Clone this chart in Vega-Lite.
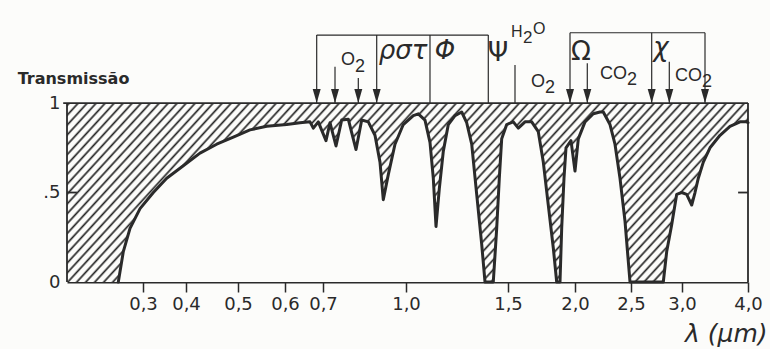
{
"$schema": "https://vega.github.io/schema/vega-lite/v6.json",
"width": 681,
"height": 272,
"autosize": "none",
"padding": {"left": 67, "top": 10, "right": 22, "bottom": 67},
"background": "#fcfcfa",
"config": {"view": {"stroke": null}},
"datasets": {
"curve": [{"x":0.2675,"y":0},{"x":0.2741,"y":0.17},{"x":0.2829,"y":0.30},{"x":0.2961,"y":0.41},{"x":0.324,"y":0.50},{"x":0.3551,"y":0.58},{"x":0.3937,"y":0.65},{"x":0.4269,"y":0.72},{"x":0.459,"y":0.77},{"x":0.491,"y":0.81},{"x":0.5255,"y":0.85},{"x":0.5611,"y":0.87},{"x":0.6045,"y":0.88},{"x":0.6395,"y":0.89},{"x":0.6658,"y":0.895},{"x":0.6745,"y":0.86},{"x":0.6876,"y":0.895},{"x":0.7108,"y":0.79},{"x":0.7253,"y":0.89},{"x":0.747,"y":0.76},{"x":0.7676,"y":0.905},{"x":0.7914,"y":0.91},{"x":0.8193,"y":0.74},{"x":0.8399,"y":0.905},{"x":0.8637,"y":0.895},{"x":0.8879,"y":0.82},{"x":0.906,"y":0.67},{"x":0.9179,"y":0.46},{"x":0.936,"y":0.60},{"x":0.9602,"y":0.77},{"x":0.9902,"y":0.88},{"x":1.0358,"y":0.93},{"x":1.0603,"y":0.94},{"x":1.0931,"y":0.905},{"x":1.1176,"y":0.78},{"x":1.1338,"y":0.58},{"x":1.1471,"y":0.31},{"x":1.1632,"y":0.52},{"x":1.1828,"y":0.73},{"x":1.2074,"y":0.88},{"x":1.2402,"y":0.93},{"x":1.273,"y":0.95},{"x":1.2975,"y":0.89},{"x":1.3221,"y":0.77},{"x":1.3466,"y":0.49},{"x":1.3711,"y":0.21},{"x":1.3873,"y":0},{"x":1.4279,"y":0},{"x":1.4446,"y":0.30},{"x":1.4574,"y":0.58},{"x":1.4691,"y":0.80},{"x":1.4936,"y":0.88},{"x":1.5396,"y":0.895},{"x":1.5769,"y":0.86},{"x":1.6269,"y":0.895},{"x":1.6769,"y":0.895},{"x":1.7261,"y":0.84},{"x":1.7634,"y":0.67},{"x":1.8007,"y":0.43},{"x":1.8381,"y":0.19},{"x":1.8634,"y":0},{"x":1.8881,"y":0},{"x":1.9007,"y":0.30},{"x":1.9179,"y":0.58},{"x":1.9328,"y":0.75},{"x":1.9701,"y":0.79},{"x":2.0,"y":0.62},{"x":2.0295,"y":0.80},{"x":2.0893,"y":0.895},{"x":2.1634,"y":0.94},{"x":2.2232,"y":0.95},{"x":2.2527,"y":0.95},{"x":2.3125,"y":0.88},{"x":2.3571,"y":0.77},{"x":2.4018,"y":0.58},{"x":2.4464,"y":0.34},{"x":2.4911,"y":0},{"x":2.8167,"y":0},{"x":2.85,"y":0.17},{"x":2.899,"y":0.32},{"x":2.948,"y":0.49},{"x":2.997,"y":0.50},{"x":3.071,"y":0.49},{"x":3.147,"y":0.43},{"x":3.197,"y":0.50},{"x":3.247,"y":0.58},{"x":3.323,"y":0.67},{"x":3.424,"y":0.75},{"x":3.576,"y":0.82},{"x":3.727,"y":0.87},{"x":3.879,"y":0.895},{"x":3.98,"y":0.895},{"x":4.0,"y":0.89}],
"box": [{"x":0.2,"x2":4,"y":0,"y2":1}],
"frame": [{"x":0.195,"x2":4,"y":1,"y2":1},{"x":0.2,"x2":0.2,"y":0,"y2":1},{"x":4,"x2":4,"y":0,"y2":1},{"x":0.2,"x2":0.213,"y":0.5,"y2":0.5},{"x":3.85,"x2":4,"y":0.5,"y2":0.5}],
"bands": [{"x":0.6834,"x2":1.4034,"y":1.38,"y2":1.38},{"x":0.6834,"x2":0.6834,"y":1.38,"y2":1},{"x":0.7434,"x2":0.7434,"y":1.203,"y2":1},{"x":0.8276,"x2":0.8276,"y":1.14,"y2":1},{"x":0.8941,"x2":0.8941,"y":1.38,"y2":1},{"x":1.1176,"x2":1.1176,"y":1.38,"y2":1},{"x":1.4034,"x2":1.4034,"y":1.38,"y2":1},{"x":1.5522,"x2":1.5522,"y":1.212,"y2":1},{"x":1.9627,"x2":3.3485,"y":1.393,"y2":1.393},{"x":1.9627,"x2":1.9627,"y":1.393,"y2":1},{"x":2.1098,"x2":2.1098,"y":1.223,"y2":1},{"x":2.7029,"x2":2.7029,"y":1.393,"y2":1},{"x":2.8755,"x2":2.8755,"y":1.231,"y2":1},{"x":3.3485,"x2":3.3485,"y":1.393,"y2":1}],
"arrows": [{"x":0.6834,"y":1.039},{"x":0.7434,"y":1.039},{"x":0.8276,"y":1.039},{"x":0.8941,"y":1.039},{"x":1.9627,"y":1.039},{"x":2.1098,"y":1.039},{"x":2.7029,"y":1.039},{"x":2.8755,"y":1.039},{"x":3.3485,"y":1.039}],
"greekIt": [{"t":"ρστ","x":0.9891,"y":1.2458},{"t":"Φ","x":1.1912,"y":1.2458},{"t":"χ","x":2.7941,"y":1.2626}],
"greekUp": [{"t":"Ψ","x":1.451,"y":1.2346},{"t":"Ω","x":2.0536,"y":1.2402}],
"chem": [{"t":"O","x":0.7651,"y":1.2123},{"t":"O","x":1.6716,"y":1.0894},{"t":"CO","x":2.2232,"y":1.1341},{"t":"CO","x":2.9314,"y":1.1229}],
"subs": [{"t":"2","x":0.8157,"y":1.1732},{"t":"2","x":1.7761,"y":1.0559},{"t":"2","x":2.4643,"y":1.1006},{"t":"2","x":3.303,"y":1.0894}],
"h2oH": [{"t":"H","x":1.5224,"y":1.3687},{"t":"O","x":1.6866,"y":1.3855}],
"h2o2": [{"t":"2","x":1.6119,"y":1.3352}]
},
"encoding": {
"x": {"field":"x","type":"quantitative",
 "scale":{"domain":[0.2,0.3,0.4,0.5,0.6,0.7,1.0,1.5,2.0,2.5,3.0,4.0],"range":[0,76,119,171,218,256,339,441,508,564,615,681],"nice":false,"zero":false},
 "axis":{"values":[0.3,0.4,0.5,0.6,0.7,1,1.5,2,2.5,3,4],"labelExpr":"replace(format(datum.value,'.1f'),'.',',')","grid":false,"tickSize":10,"tickWidth":1.5,"tickColor":"#2a2a2a","domainColor":"#2a2a2a","domainWidth":1.8,"labelFont":"DejaVu Sans","labelFontSize":18,"labelColor":"#2a2a2a","labelPadding":3,"labelOverlap":false,"labelFlush":false,
  "title":"λ (μm)","titleFont":"DejaVu Sans","titleFontStyle":"italic","titleFontWeight":"normal","titleFontSize":25,"titleColor":"#2a2a2a","titleAlign":"right","titleBaseline":"alphabetic","titleX":700,"titleY":59}},
"y": {"field":"y","type":"quantitative",
 "scale":{"domain":[0,1.52],"nice":false},
 "axis":{"values":[0,0.5,1],"labelExpr":"datum.value==0.5?'.5':format(datum.value,'d')","grid":false,"ticks":false,"domain":false,"labelFont":"DejaVu Sans","labelFontSize":18,"labelColor":"#2a2a2a","labelPadding":7,
  "title":"Transmissão","titleAngle":0,"titleAlign":"center","titleBaseline":"alphabetic","titleX":6,"titleY":73,"titleFont":"DejaVu Sans","titleFontWeight":"bold","titleFontSize":16,"titleColor":"#2a2a2a"}}
},
"layer": [
{"data":{"name":"box"},"mark":{"type":"rect","fill":{"gradient":"linear","x1":0,"y1":0,"x2":1.25,"y2":0.3,"stops":[
{"offset":0,"color":"#fcfcfa"},{"offset":0.0025,"color":"#222"},{"offset":0.005,"color":"#fcfcfa"},
{"offset":0.01,"color":"#fcfcfa"},{"offset":0.0125,"color":"#222"},{"offset":0.015,"color":"#fcfcfa"},
{"offset":0.02,"color":"#fcfcfa"},{"offset":0.0225,"color":"#222"},{"offset":0.025,"color":"#fcfcfa"},
{"offset":0.03,"color":"#fcfcfa"},{"offset":0.0325,"color":"#222"},{"offset":0.035,"color":"#fcfcfa"},
{"offset":0.04,"color":"#fcfcfa"},{"offset":0.0425,"color":"#222"},{"offset":0.045,"color":"#fcfcfa"},
{"offset":0.05,"color":"#fcfcfa"},{"offset":0.0525,"color":"#222"},{"offset":0.055,"color":"#fcfcfa"},
{"offset":0.06,"color":"#fcfcfa"},{"offset":0.0625,"color":"#222"},{"offset":0.065,"color":"#fcfcfa"},
{"offset":0.07,"color":"#fcfcfa"},{"offset":0.0725,"color":"#222"},{"offset":0.075,"color":"#fcfcfa"},
{"offset":0.08,"color":"#fcfcfa"},{"offset":0.0825,"color":"#222"},{"offset":0.085,"color":"#fcfcfa"},
{"offset":0.09,"color":"#fcfcfa"},{"offset":0.0925,"color":"#222"},{"offset":0.095,"color":"#fcfcfa"},
{"offset":0.1,"color":"#fcfcfa"},{"offset":0.1025,"color":"#222"},{"offset":0.105,"color":"#fcfcfa"},
{"offset":0.11,"color":"#fcfcfa"},{"offset":0.1125,"color":"#222"},{"offset":0.115,"color":"#fcfcfa"},
{"offset":0.12,"color":"#fcfcfa"},{"offset":0.1225,"color":"#222"},{"offset":0.125,"color":"#fcfcfa"},
{"offset":0.13,"color":"#fcfcfa"},{"offset":0.1325,"color":"#222"},{"offset":0.135,"color":"#fcfcfa"},
{"offset":0.14,"color":"#fcfcfa"},{"offset":0.1425,"color":"#222"},{"offset":0.145,"color":"#fcfcfa"},
{"offset":0.15,"color":"#fcfcfa"},{"offset":0.1525,"color":"#222"},{"offset":0.155,"color":"#fcfcfa"},
{"offset":0.16,"color":"#fcfcfa"},{"offset":0.1625,"color":"#222"},{"offset":0.165,"color":"#fcfcfa"},
{"offset":0.17,"color":"#fcfcfa"},{"offset":0.1725,"color":"#222"},{"offset":0.175,"color":"#fcfcfa"},
{"offset":0.18,"color":"#fcfcfa"},{"offset":0.1825,"color":"#222"},{"offset":0.185,"color":"#fcfcfa"},
{"offset":0.19,"color":"#fcfcfa"},{"offset":0.1925,"color":"#222"},{"offset":0.195,"color":"#fcfcfa"},
{"offset":0.2,"color":"#fcfcfa"},{"offset":0.2025,"color":"#222"},{"offset":0.205,"color":"#fcfcfa"},
{"offset":0.21,"color":"#fcfcfa"},{"offset":0.2125,"color":"#222"},{"offset":0.215,"color":"#fcfcfa"},
{"offset":0.22,"color":"#fcfcfa"},{"offset":0.2225,"color":"#222"},{"offset":0.225,"color":"#fcfcfa"},
{"offset":0.23,"color":"#fcfcfa"},{"offset":0.2325,"color":"#222"},{"offset":0.235,"color":"#fcfcfa"},
{"offset":0.24,"color":"#fcfcfa"},{"offset":0.2425,"color":"#222"},{"offset":0.245,"color":"#fcfcfa"},
{"offset":0.25,"color":"#fcfcfa"},{"offset":0.2525,"color":"#222"},{"offset":0.255,"color":"#fcfcfa"},
{"offset":0.26,"color":"#fcfcfa"},{"offset":0.2625,"color":"#222"},{"offset":0.265,"color":"#fcfcfa"},
{"offset":0.27,"color":"#fcfcfa"},{"offset":0.2725,"color":"#222"},{"offset":0.275,"color":"#fcfcfa"},
{"offset":0.28,"color":"#fcfcfa"},{"offset":0.2825,"color":"#222"},{"offset":0.285,"color":"#fcfcfa"},
{"offset":0.29,"color":"#fcfcfa"},{"offset":0.2925,"color":"#222"},{"offset":0.295,"color":"#fcfcfa"},
{"offset":0.3,"color":"#fcfcfa"},{"offset":0.3025,"color":"#222"},{"offset":0.305,"color":"#fcfcfa"},
{"offset":0.31,"color":"#fcfcfa"},{"offset":0.3125,"color":"#222"},{"offset":0.315,"color":"#fcfcfa"},
{"offset":0.32,"color":"#fcfcfa"},{"offset":0.3225,"color":"#222"},{"offset":0.325,"color":"#fcfcfa"},
{"offset":0.33,"color":"#fcfcfa"},{"offset":0.3325,"color":"#222"},{"offset":0.335,"color":"#fcfcfa"},
{"offset":0.34,"color":"#fcfcfa"},{"offset":0.3425,"color":"#222"},{"offset":0.345,"color":"#fcfcfa"},
{"offset":0.35,"color":"#fcfcfa"},{"offset":0.3525,"color":"#222"},{"offset":0.355,"color":"#fcfcfa"},
{"offset":0.36,"color":"#fcfcfa"},{"offset":0.3625,"color":"#222"},{"offset":0.365,"color":"#fcfcfa"},
{"offset":0.37,"color":"#fcfcfa"},{"offset":0.3725,"color":"#222"},{"offset":0.375,"color":"#fcfcfa"},
{"offset":0.38,"color":"#fcfcfa"},{"offset":0.3825,"color":"#222"},{"offset":0.385,"color":"#fcfcfa"},
{"offset":0.39,"color":"#fcfcfa"},{"offset":0.3925,"color":"#222"},{"offset":0.395,"color":"#fcfcfa"},
{"offset":0.4,"color":"#fcfcfa"},{"offset":0.4025,"color":"#222"},{"offset":0.405,"color":"#fcfcfa"},
{"offset":0.41,"color":"#fcfcfa"},{"offset":0.4125,"color":"#222"},{"offset":0.415,"color":"#fcfcfa"},
{"offset":0.42,"color":"#fcfcfa"},{"offset":0.4225,"color":"#222"},{"offset":0.425,"color":"#fcfcfa"},
{"offset":0.43,"color":"#fcfcfa"},{"offset":0.4325,"color":"#222"},{"offset":0.435,"color":"#fcfcfa"},
{"offset":0.44,"color":"#fcfcfa"},{"offset":0.4425,"color":"#222"},{"offset":0.445,"color":"#fcfcfa"},
{"offset":0.45,"color":"#fcfcfa"},{"offset":0.4525,"color":"#222"},{"offset":0.455,"color":"#fcfcfa"},
{"offset":0.46,"color":"#fcfcfa"},{"offset":0.4625,"color":"#222"},{"offset":0.465,"color":"#fcfcfa"},
{"offset":0.47,"color":"#fcfcfa"},{"offset":0.4725,"color":"#222"},{"offset":0.475,"color":"#fcfcfa"},
{"offset":0.48,"color":"#fcfcfa"},{"offset":0.4825,"color":"#222"},{"offset":0.485,"color":"#fcfcfa"},
{"offset":0.49,"color":"#fcfcfa"},{"offset":0.4925,"color":"#222"},{"offset":0.495,"color":"#fcfcfa"},
{"offset":0.5,"color":"#fcfcfa"},{"offset":0.5025,"color":"#222"},{"offset":0.505,"color":"#fcfcfa"},
{"offset":0.51,"color":"#fcfcfa"},{"offset":0.5125,"color":"#222"},{"offset":0.515,"color":"#fcfcfa"},
{"offset":0.52,"color":"#fcfcfa"},{"offset":0.5225,"color":"#222"},{"offset":0.525,"color":"#fcfcfa"},
{"offset":0.53,"color":"#fcfcfa"},{"offset":0.5325,"color":"#222"},{"offset":0.535,"color":"#fcfcfa"},
{"offset":0.54,"color":"#fcfcfa"},{"offset":0.5425,"color":"#222"},{"offset":0.545,"color":"#fcfcfa"},
{"offset":0.55,"color":"#fcfcfa"},{"offset":0.5525,"color":"#222"},{"offset":0.555,"color":"#fcfcfa"},
{"offset":0.56,"color":"#fcfcfa"},{"offset":0.5625,"color":"#222"},{"offset":0.565,"color":"#fcfcfa"},
{"offset":0.57,"color":"#fcfcfa"},{"offset":0.5725,"color":"#222"},{"offset":0.575,"color":"#fcfcfa"},
{"offset":0.58,"color":"#fcfcfa"},{"offset":0.5825,"color":"#222"},{"offset":0.585,"color":"#fcfcfa"},
{"offset":0.59,"color":"#fcfcfa"},{"offset":0.5925,"color":"#222"},{"offset":0.595,"color":"#fcfcfa"},
{"offset":0.6,"color":"#fcfcfa"},{"offset":0.6025,"color":"#222"},{"offset":0.605,"color":"#fcfcfa"},
{"offset":0.61,"color":"#fcfcfa"},{"offset":0.6125,"color":"#222"},{"offset":0.615,"color":"#fcfcfa"},
{"offset":0.62,"color":"#fcfcfa"},{"offset":0.6225,"color":"#222"},{"offset":0.625,"color":"#fcfcfa"},
{"offset":0.63,"color":"#fcfcfa"},{"offset":0.6325,"color":"#222"},{"offset":0.635,"color":"#fcfcfa"},
{"offset":0.64,"color":"#fcfcfa"},{"offset":0.6425,"color":"#222"},{"offset":0.645,"color":"#fcfcfa"},
{"offset":0.65,"color":"#fcfcfa"},{"offset":0.6525,"color":"#222"},{"offset":0.655,"color":"#fcfcfa"},
{"offset":0.66,"color":"#fcfcfa"},{"offset":0.6625,"color":"#222"},{"offset":0.665,"color":"#fcfcfa"},
{"offset":0.67,"color":"#fcfcfa"},{"offset":0.6725,"color":"#222"},{"offset":0.675,"color":"#fcfcfa"},
{"offset":0.68,"color":"#fcfcfa"},{"offset":0.6825,"color":"#222"},{"offset":0.685,"color":"#fcfcfa"},
{"offset":0.69,"color":"#fcfcfa"},{"offset":0.6925,"color":"#222"},{"offset":0.695,"color":"#fcfcfa"},
{"offset":0.7,"color":"#fcfcfa"},{"offset":0.7025,"color":"#222"},{"offset":0.705,"color":"#fcfcfa"},
{"offset":0.71,"color":"#fcfcfa"},{"offset":0.7125,"color":"#222"},{"offset":0.715,"color":"#fcfcfa"},
{"offset":0.72,"color":"#fcfcfa"},{"offset":0.7225,"color":"#222"},{"offset":0.725,"color":"#fcfcfa"},
{"offset":0.73,"color":"#fcfcfa"},{"offset":0.7325,"color":"#222"},{"offset":0.735,"color":"#fcfcfa"},
{"offset":0.74,"color":"#fcfcfa"},{"offset":0.7425,"color":"#222"},{"offset":0.745,"color":"#fcfcfa"},
{"offset":0.75,"color":"#fcfcfa"},{"offset":0.7525,"color":"#222"},{"offset":0.755,"color":"#fcfcfa"},
{"offset":0.76,"color":"#fcfcfa"},{"offset":0.7625,"color":"#222"},{"offset":0.765,"color":"#fcfcfa"},
{"offset":0.77,"color":"#fcfcfa"},{"offset":0.7725,"color":"#222"},{"offset":0.775,"color":"#fcfcfa"},
{"offset":0.78,"color":"#fcfcfa"},{"offset":0.7825,"color":"#222"},{"offset":0.785,"color":"#fcfcfa"},
{"offset":0.79,"color":"#fcfcfa"},{"offset":0.7925,"color":"#222"},{"offset":0.795,"color":"#fcfcfa"},
{"offset":0.8,"color":"#fcfcfa"},{"offset":0.8025,"color":"#222"},{"offset":0.805,"color":"#fcfcfa"},
{"offset":0.81,"color":"#fcfcfa"},{"offset":0.8125,"color":"#222"},{"offset":0.815,"color":"#fcfcfa"},
{"offset":0.82,"color":"#fcfcfa"},{"offset":0.8225,"color":"#222"},{"offset":0.825,"color":"#fcfcfa"},
{"offset":0.83,"color":"#fcfcfa"},{"offset":0.8325,"color":"#222"},{"offset":0.835,"color":"#fcfcfa"},
{"offset":0.84,"color":"#fcfcfa"},{"offset":0.8425,"color":"#222"},{"offset":0.845,"color":"#fcfcfa"},
{"offset":0.85,"color":"#fcfcfa"},{"offset":0.8525,"color":"#222"},{"offset":0.855,"color":"#fcfcfa"},
{"offset":0.86,"color":"#fcfcfa"},{"offset":0.8625,"color":"#222"},{"offset":0.865,"color":"#fcfcfa"},
{"offset":0.87,"color":"#fcfcfa"},{"offset":0.8725,"color":"#222"},{"offset":0.875,"color":"#fcfcfa"},
{"offset":0.88,"color":"#fcfcfa"},{"offset":0.8825,"color":"#222"},{"offset":0.885,"color":"#fcfcfa"},
{"offset":0.89,"color":"#fcfcfa"},{"offset":0.8925,"color":"#222"},{"offset":0.895,"color":"#fcfcfa"},
{"offset":0.9,"color":"#fcfcfa"},{"offset":0.9025,"color":"#222"},{"offset":0.905,"color":"#fcfcfa"},
{"offset":0.91,"color":"#fcfcfa"},{"offset":0.9125,"color":"#222"},{"offset":0.915,"color":"#fcfcfa"},
{"offset":0.92,"color":"#fcfcfa"},{"offset":0.9225,"color":"#222"},{"offset":0.925,"color":"#fcfcfa"},
{"offset":0.93,"color":"#fcfcfa"},{"offset":0.9325,"color":"#222"},{"offset":0.935,"color":"#fcfcfa"},
{"offset":0.94,"color":"#fcfcfa"},{"offset":0.9425,"color":"#222"},{"offset":0.945,"color":"#fcfcfa"}
]}},"encoding":{"x2":{"field":"x2"},"y2":{"field":"y2"}}},
{"data":{"name":"curve"},"mark":{"type":"area","fill":"#fcfcfa","opacity":1}},
{"data":{"name":"curve"},"mark":{"type":"line","color":"#2a2a2a","strokeWidth":3,"strokeJoin":"round","strokeCap":"round"}},
{"data":{"name":"frame"},"mark":{"type":"rule","color":"#2a2a2a","strokeWidth":1.8},"encoding":{"x2":{"field":"x2"},"y2":{"field":"y2"}}},
{"data":{"name":"bands"},"mark":{"type":"rule","color":"#2a2a2a","strokeWidth":1.2},"encoding":{"x2":{"field":"x2"},"y2":{"field":"y2"}}},
{"data":{"name":"arrows"},"mark":{"type":"point","shape":"M-0.57,-1L0.57,-1L0,1Z","size":196,"filled":true,"fill":"#2a2a2a","strokeWidth":0,"opacity":1}},
{"data":{"name":"greekIt"},"mark":{"type":"text","font":"DejaVu Sans","fontStyle":"italic","fontSize":26,"align":"center","baseline":"alphabetic","color":"#2a2a2a"},"encoding":{"text":{"field":"t"}}},
{"data":{"name":"greekUp"},"mark":{"type":"text","font":"DejaVu Sans","fontSize":26,"align":"center","baseline":"alphabetic","color":"#2a2a2a"},"encoding":{"text":{"field":"t"}}},
{"data":{"name":"chem"},"mark":{"type":"text","font":"Liberation Sans","fontSize":18,"align":"left","baseline":"alphabetic","color":"#2a2a2a"},"encoding":{"text":{"field":"t"}}},
{"data":{"name":"subs"},"mark":{"type":"text","font":"Liberation Sans","fontSize":18,"align":"left","baseline":"alphabetic","color":"#2a2a2a"},"encoding":{"text":{"field":"t"}}},
{"data":{"name":"h2oH"},"mark":{"type":"text","font":"Liberation Sans","fontSize":16,"align":"left","baseline":"alphabetic","color":"#2a2a2a"},"encoding":{"text":{"field":"t"}}},
{"data":{"name":"h2o2"},"mark":{"type":"text","font":"Liberation Sans","fontSize":17,"align":"left","baseline":"alphabetic","color":"#2a2a2a"},"encoding":{"text":{"field":"t"}}}
]
}
